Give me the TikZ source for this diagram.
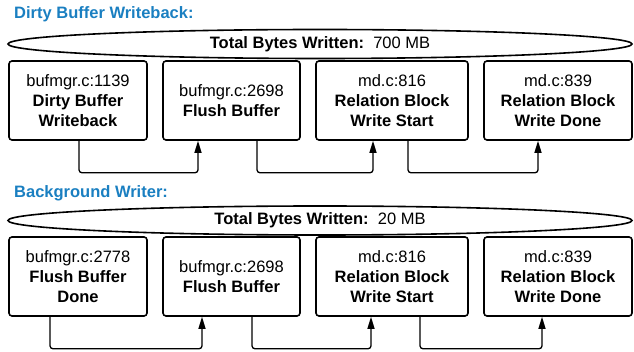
\documentclass[tikz,border=0pt]{standalone}
\usepackage{fontspec}
\setmainfont{Liberation Sans}
\usepackage{tikz}
\usetikzlibrary{shapes.geometric,arrows.meta}

\definecolor{titleblue}{RGB}{26,127,193}

\begin{document}
\begin{tikzpicture}[x=1pt,y=-1pt]
\tikzset{
  every node/.style={font=\fontsize{16.5}{20}\selectfont},
  title/.style={anchor=west,text=titleblue,font=\fontsize{16.5}{20}\selectfont\bfseries,inner sep=0pt},
  total/.style={draw,line width=1.6pt,ellipse,minimum width=624pt,minimum height=29pt,inner sep=0pt},
  func/.style={draw,line width=1.6pt,fill=white,rounded corners=3pt,align=center,minimum height=79pt,inner sep=0pt},
  flow/.style={line width=1.3pt,rounded corners=3pt,-{Triangle[length=12pt,width=7pt]}}
}
\useasboundingbox (0,0) rectangle (634,352);

% Dirty buffer writeback
\node[title] (t1) at (14,14) {Dirty Buffer Writeback:};
\node[total] (e1) at (320,44) {\textbf{Total Bytes Written:}\ \ 700 MB};
\node[func,minimum width=138pt] (a1) at (78,100.5) {bufmgr.c:1139\\\textbf{Dirty Buffer}\\\textbf{Writeback}};
\node[func,minimum width=137pt] (a2) at (231.5,100.5) {bufmgr.c:2698\\\textbf{Flush Buffer}};
\node[func,minimum width=152pt] (a3) at (392,100.5) {md.c:816\\\textbf{Relation Block}\\\textbf{Write Start}};
\node[func,minimum width=148pt] (a4) at (558,100.5) {md.c:839\\\textbf{Relation Block}\\\textbf{Write Done}};
\draw[flow] ([xshift=1pt]a1.south) -- ++(0,32) -| ([xshift=-33.5pt]a2.south);
\draw[flow] ([xshift=25.5pt]a2.south) -- ++(0,32) -| ([xshift=-19pt]a3.south);
\draw[flow] ([xshift=16pt]a3.south) -- ++(0,32) -| ([xshift=-20pt]a4.south);

% Background writer
\node[title] (t2) at (14,193) {Background Writer:};
\node[total] (e2) at (320,220.5) {\textbf{Total Bytes Written:}\ \ 20 MB};
\node[func,minimum width=138pt] (b1) at (78,276.5) {bufmgr.c:2778\\\textbf{Flush Buffer}\\\textbf{Done}};
\node[func,minimum width=137pt] (b2) at (231.5,276.5) {bufmgr.c:2698\\\textbf{Flush Buffer}};
\node[func,minimum width=152pt] (b3) at (392,276.5) {md.c:816\\\textbf{Relation Block}\\\textbf{Write Start}};
\node[func,minimum width=148pt] (b4) at (558,276.5) {md.c:839\\\textbf{Relation Block}\\\textbf{Write Done}};
\draw[flow] ([xshift=-28pt]b1.south) -- ++(0,32) -| ([xshift=-29.5pt]b2.south);
\draw[flow] ([xshift=20.5pt]b2.south) -- ++(0,32) -| ([xshift=-21pt]b3.south);
\draw[flow] ([xshift=28pt]b3.south) -- ++(0,32) -| ([xshift=-16pt]b4.south);
\end{tikzpicture}
\end{document}
